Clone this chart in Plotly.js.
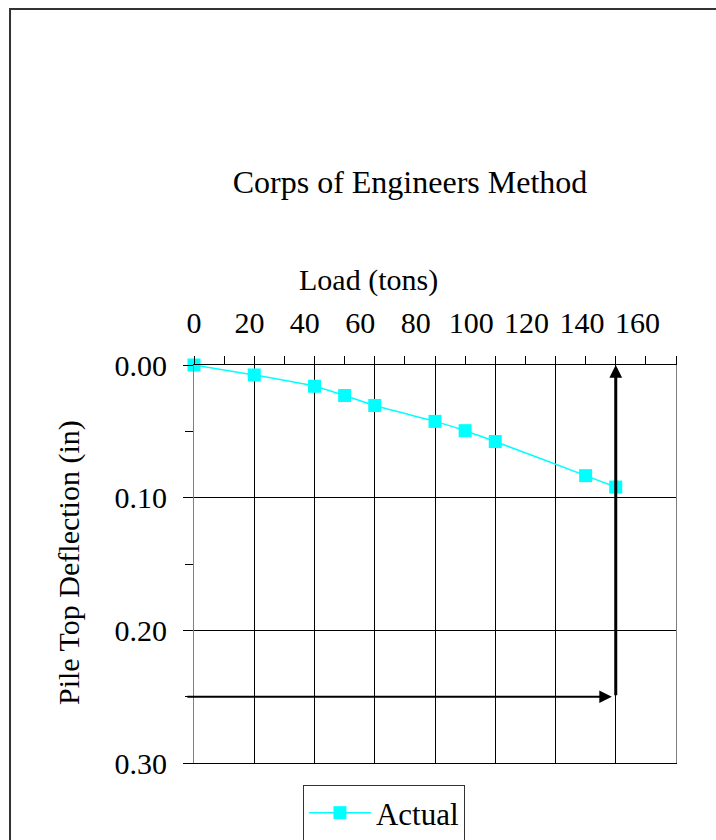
<!DOCTYPE html>
<html>
<head>
<meta charset="utf-8">
<script src="https://cdn.plot.ly/plotly-3.0.1.min.js"></script>
<style>
  html, body { margin: 0; padding: 0; background: #fff; }
  #chart { width: 716px; height: 840px; }
</style>
</head>
<body>
<div id="chart"></div>
<script>
// ---- data ----
const loadTons = [0, 20, 40, 50, 60, 80, 90, 100, 130, 140];
const deflectionIn = [0.000, 0.0075, 0.016, 0.023, 0.0305, 0.0425, 0.0495, 0.0577, 0.0834, 0.092];
const xTickVals = [0, 20, 40, 60, 80, 100, 120, 140, 160];
const xTickText = ['0', '20', '40', '60', '80', '100', '120', '140', '160'];
const yTickVals = [0, 0.1, 0.2, 0.3];
const yTickText = ['0.00', '0.10', '0.20', '0.30'];
const failureLoad = 140;       // vertical arrow position (tons)
const limitDeflection = 0.25;  // horizontal arrow level (in)
const arrowTailLoad = -2.7;

const FONT = 'Liberation Serif, Times New Roman, serif';

const trace = {
  x: loadTons,
  y: deflectionIn,
  name: 'Actual',
  type: 'scatter',
  mode: 'lines+markers',
  line: { color: '#00FFFF', width: 1.5, shape: 'spline', smoothing: 0.6 },
  marker: { symbol: 'square', size: 13, color: '#00FFFF' },
  cliponaxis: false
};

// invisible helper trace on the label axis
const labelTrace = {
  x: [0], y: [0], xaxis: 'x2', yaxis: 'y',
  mode: 'markers', marker: { opacity: 0 }, showlegend: false, hoverinfo: 'skip'
};

const layout = {
  width: 716, height: 840,
  paper_bgcolor: '#ffffff', plot_bgcolor: '#ffffff',
  margin: { l: 194, r: 40, t: 365, b: 77, autoexpand: false },
  font: { family: FONT, color: '#000' },
  title: {
    text: 'Corps of Engineers Method',
    font: { family: FONT, size: 32, color: '#000' },
    xref: 'container', yref: 'container',
    x: 0.5726, y: 0.7833, xanchor: 'center', yanchor: 'middle'
  },
  showlegend: true,
  legend: {
    x: 0.226, y: -0.0553, xanchor: 'left', yanchor: 'top',
    bordercolor: '#333', borderwidth: 1, bgcolor: '#fff',
    itemwidth: 62,
    font: { family: FONT, size: 31, color: '#000' }
  },
  xaxis: {
    side: 'top', range: [0, 160],
    tickvals: xTickVals, showticklabels: false,
    ticks: 'outside', ticklen: 8, tickcolor: '#000', tickwidth: 1,
    minor: { dtick: 10, tick0: 0, ticks: 'outside', ticklen: 8, tickcolor: '#000', showgrid: false },
    showgrid: true, gridcolor: '#000', gridwidth: 1,
    showline: true, linecolor: '#000', linewidth: 1, mirror: true,
    zeroline: false, fixedrange: true
  },
  xaxis2: {
    overlaying: 'x', side: 'top', anchor: 'y',
    range: [0, 173.9],
    tickvals: xTickVals, ticktext: xTickText,
    ticks: '', showgrid: false, showline: false, zeroline: false,
    tickfont: { family: FONT, size: 30, color: '#000' },
    ticklabelstandoff: 25, fixedrange: true
  },
  yaxis: {
    range: [0.3, 0],
    tickvals: yTickVals, ticktext: yTickText,
    ticks: 'outside', ticklen: 10, tickcolor: '#000', tickwidth: 1,
    minor: { dtick: 0.05, tick0: 0, ticks: 'outside', ticklen: 8, tickcolor: '#000', showgrid: false },
    showgrid: true, gridcolor: '#000', gridwidth: 1,
    showline: true, linecolor: '#808080', linewidth: 1, mirror: true,
    zeroline: false,
    tickfont: { family: FONT, size: 30, color: '#000' },
    ticklabelstandoff: 10, fixedrange: true
  },
  annotations: [
    {
      text: 'Load (tons)', xref: 'paper', yref: 'paper',
      x: 0.363, y: 1.2136, xanchor: 'center', yanchor: 'middle',
      showarrow: false, font: { family: FONT, size: 30, color: '#000' }
    },
    {
      text: 'Pile Top Deflection (in)', xref: 'paper', yref: 'paper',
      x: -0.2593, y: 0.5025, xanchor: 'center', yanchor: 'middle',
      textangle: -90, showarrow: false, font: { family: FONT, size: 30, color: '#000' }
    },
    {
      x: failureLoad, y: 0, xref: 'x', yref: 'y',
      ax: failureLoad, ay: limitDeflection, axref: 'x', ayref: 'y',
      text: '', showarrow: true, arrowhead: 2, arrowsize: 0.85, arrowwidth: 3, arrowcolor: '#000'
    },
    {
      x: failureLoad - 1.3, y: limitDeflection, xref: 'x', yref: 'y',
      ax: arrowTailLoad, ay: limitDeflection, axref: 'x', ayref: 'y',
      text: '', showarrow: true, arrowhead: 2, arrowsize: 1.25, arrowwidth: 2, arrowcolor: '#000'
    }
  ],
  shapes: [
    {
      type: 'rect', xref: 'paper', yref: 'paper',
      x0: -0.3817, x1: 1.2, y0: -0.3, y1: 1.8945,
      line: { color: '#333', width: 2 }, fillcolor: 'rgba(0,0,0,0)', layer: 'below'
    }
  ]
};

Plotly.newPlot('chart', [trace, labelTrace], layout, { displayModeBar: false, staticPlot: true });
</script>
</body>
</html>
